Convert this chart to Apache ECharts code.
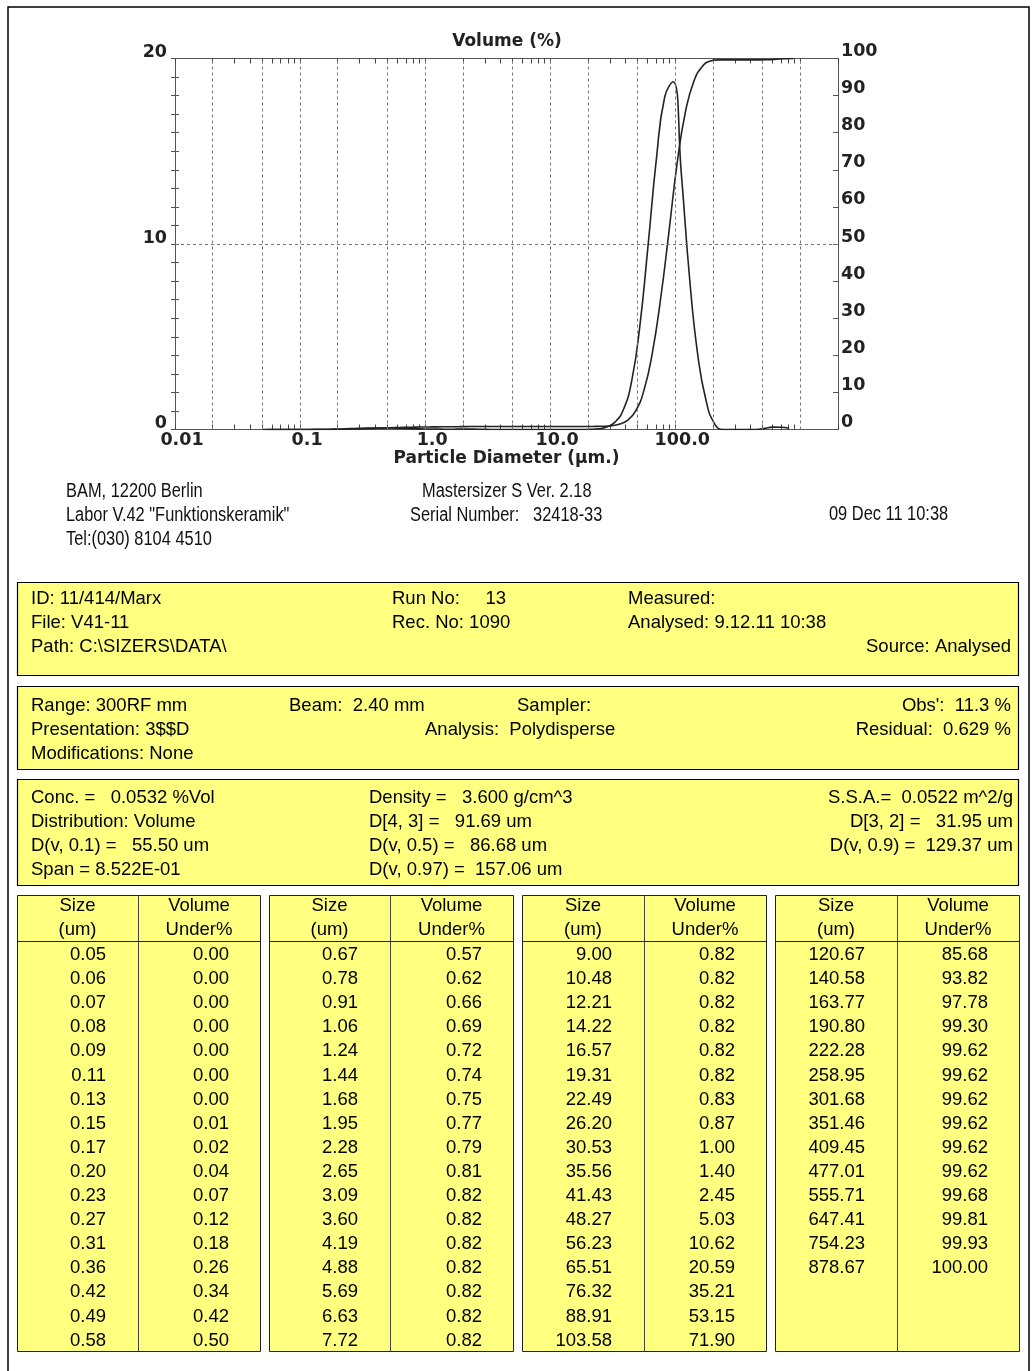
<!DOCTYPE html>
<html>
<head>
<meta charset="utf-8">
<script src="https://cdn.jsdelivr.net/npm/echarts@6/dist/echarts.min.js"></script>
<style>
  html, body { margin: 0; padding: 0; background: #fff; }
  #main { width: 1032px; height: 1371px; }
</style>
</head>
<body>
<div id="main"></div>
<script>
// Result table: upper size of each band (um) and cumulative volume under that size (%)
const sizeUm = [
  0.05, 0.06, 0.07, 0.08, 0.09, 0.11, 0.13, 0.15, 0.17, 0.20, 0.23, 0.27, 0.31, 0.36, 0.42, 0.49, 0.58,
  0.67, 0.78, 0.91, 1.06, 1.24, 1.44, 1.68, 1.95, 2.28, 2.65, 3.09, 3.60, 4.19, 4.88, 5.69, 6.63, 7.72,
  9.00, 10.48, 12.21, 14.22, 16.57, 19.31, 22.49, 26.20, 30.53, 35.56, 41.43, 48.27, 56.23, 65.51, 76.32, 88.91, 103.58,
  120.67, 140.58, 163.77, 190.80, 222.28, 258.95, 301.68, 351.46, 409.45, 477.01, 555.71, 647.41, 754.23, 878.67
];
const volumeUnder = [
  0.00, 0.00, 0.00, 0.00, 0.00, 0.00, 0.00, 0.01, 0.02, 0.04, 0.07, 0.12, 0.18, 0.26, 0.34, 0.42, 0.50,
  0.57, 0.62, 0.66, 0.69, 0.72, 0.74, 0.75, 0.77, 0.79, 0.81, 0.82, 0.82, 0.82, 0.82, 0.82, 0.82, 0.82,
  0.82, 0.82, 0.82, 0.82, 0.82, 0.82, 0.83, 0.87, 1.00, 1.40, 2.45, 5.03, 10.62, 20.59, 35.21, 53.15, 71.90,
  85.68, 93.82, 97.78, 99.30, 99.62, 99.62, 99.62, 99.62, 99.62, 99.62, 99.68, 99.81, 99.93, 100.00
];

// Volume held in each band (%) plotted at the band's geometric centre (um)
const bandCentreUm = [
  0.054, 0.065, 0.075, 0.085, 0.099, 0.119, 0.140, 0.160, 0.185, 0.214, 0.249, 0.289, 0.334, 0.389, 0.454, 0.533, 0.623,
  0.723, 0.842, 0.982, 1.146, 1.336, 1.555, 1.810, 2.108, 2.458, 2.862, 3.335, 3.884, 4.522, 5.269, 6.142, 7.154, 8.335,
  9.712, 11.31, 13.18, 15.35, 17.89, 20.84, 24.27, 28.28, 32.95, 38.38, 44.72, 52.10, 60.69, 70.71, 82.38, 95.96, 111.8,
  130.2, 151.7, 176.8, 205.9, 240.0, 279.5, 325.6, 379.4, 441.9, 514.9, 599.8, 698.8, 814.1
];
const bandVolume = [
  0.00, 0.00, 0.00, 0.00, 0.00, 0.00, 0.01, 0.01, 0.02, 0.03, 0.05, 0.06, 0.08, 0.08, 0.08, 0.08, 0.07,
  0.05, 0.04, 0.03, 0.03, 0.02, 0.01, 0.02, 0.02, 0.02, 0.01, 0.00, 0.00, 0.00, 0.00, 0.00, 0.00, 0.00,
  0.00, 0.00, 0.00, 0.00, 0.00, 0.01, 0.04, 0.13, 0.40, 1.05, 2.58, 5.59, 9.97, 14.62, 17.94, 18.75, 13.78,
  8.14, 3.96, 1.52, 0.32, 0.00, 0.00, 0.00, 0.00, 0.00, 0.06, 0.13, 0.12, 0.07
];

// Axis ticks and labels
const decadeValues = [0.01, 0.1, 1, 10, 100, 1000];
const decadeLabels = ['0.01', '0.1', '1.0', '10.0', '100.0', '1000.0'];
const gridSizes = [0.02, 0.05, 0.1, 0.2, 0.5, 1, 2, 5, 10, 20, 50, 100, 200, 500, 1000];

// Report header and parameter blocks
const labLines = ['BAM, 12200 Berlin', 'Labor V.42 "Funktionskeramik"', 'Tel:(030) 8104 4510'];
const instrumentLines = ['Mastersizer S Ver. 2.18', 'Serial Number:   32418-33'];
const reportDate = '09 Dec 11 10:38';
const sampleLines = ['ID: 11/414/Marx', 'File: V41-11', 'Path: C:\\SIZERS\\DATA\\'];
const runLines = ['Run No:     13', 'Rec. No: 1090'];
const timeLines = ['Measured:', 'Analysed: 9.12.11 10:38'];
const sourceText = 'Source: Analysed';
const rangeLines = ['Range: 300RF mm', 'Presentation: 3$$D', 'Modifications: None'];
const beamText = 'Beam:  2.40 mm';
const samplerText = 'Sampler:';
const analysisText = 'Analysis:  Polydisperse';
const fitLines = ["Obs':  11.3 %", 'Residual:  0.629 %'];
const resultLeft = ['Conc. =   0.0532 %Vol', 'Distribution: Volume', 'D(v, 0.1) =   55.50 um', 'Span = 8.522E-01'];
const resultMid = ['Density =   3.600 g/cm^3', 'D[4, 3] =   91.69 um', 'D(v, 0.5) =   86.68 um', 'D(v, 0.97) =  157.06 um'];
const resultRight = ['S.S.A.=  0.0522 m^2/g', 'D[3, 2] =   31.95 um', 'D(v, 0.9) =  129.37 um'];
const tableHead = [['Size', '(um)'], ['Volume', 'Under%']];

// ---------------------------------------------------------------------------

const chartFont = '"DejaVu Sans", Verdana, sans-serif';
const textFont = '"Liberation Sans", Arial, sans-serif';
const ink = '#222';
const frame = '#555';
const yellow = '#ffff80';

// every 1..9 x 10^n tick along the size axis
const minorTickValues = [];
decadeValues.forEach(function (d) {
  for (let k = 1; k <= 9; k++) {
    if (k * d <= 2000 + 1e-9) minorTickValues.push(k * d);
  }
});

function decadeLabel(v) {
  for (let i = 0; i < decadeValues.length; i++) {
    if (Math.abs(Math.log10(v) - Math.log10(decadeValues[i])) < 1e-6) return decadeLabels[i];
  }
  return '';
}

function txt(str, x, y, extra) {
  const st = Object.assign({
    text: str,
    fill: '#000',
    font: '18.5px ' + textFont,
    align: 'left', textAlign: 'left',
    verticalAlign: 'middle', textVerticalAlign: 'middle'
  }, extra || {});
  if (st.align) st.textAlign = st.align;
  return { type: 'text', x: x, y: y + 2, silent: true, z: 10, style: st };
}
function box(x, y, w, h, fill, stroke, lw) {
  return { type: 'rect', silent: true, z: 5,
    shape: { x: x, y: y, width: w, height: h },
    style: { fill: fill, stroke: stroke, lineWidth: lw } };
}
function hline(x1, x2, y, stroke, lw) {
  return { type: 'line', silent: true, z: 6, shape: { x1: x1, y1: y, x2: x2, y2: y }, style: { stroke: stroke, lineWidth: lw } };
}
function vline(x, y1, y2, stroke, lw) {
  return { type: 'line', silent: true, z: 6, shape: { x1: x, y1: y1, x2: x, y2: y2 }, style: { stroke: stroke, lineWidth: lw } };
}

const g = [];
// page frame
g.push({ type: 'rect', silent: true, z: 1, shape: { x: 8, y: 7, width: 1021, height: 1400 }, style: { fill: 'none', stroke: '#000', lineWidth: 1.5 } });

// lab / instrument header (condensed face)
const narrow = { font: '20px ' + textFont, fill: '#111' };
labLines.forEach(function (s, i) {
  const el = txt(s, 66, 489 + i * 24, narrow); el.scaleX = 0.82; g.push(el);
});
[[instrumentLines[0], 422, 489], [instrumentLines[1], 410, 513], [reportDate, 829, 512]].forEach(function (r) {
  const el = txt(r[0], r[1], r[2], narrow); el.scaleX = 0.82; g.push(el);
});

// block 1: sample
g.push(box(17.5, 582.5, 1001, 93, yellow, '#000', 1.2));
sampleLines.forEach(function (s, i) { g.push(txt(s, 31, 597 + i * 24)); });
runLines.forEach(function (s, i) { g.push(txt(s, 392, 597 + i * 24)); });
timeLines.forEach(function (s, i) { g.push(txt(s, 628, 597 + i * 24)); });
g.push(txt(sourceText, 1011, 645, { align: 'right' }));

// block 2: optics
g.push(box(17.5, 686.5, 1001, 83, yellow, '#000', 1.2));
rangeLines.forEach(function (s, i) { g.push(txt(s, 31, 704 + i * 24)); });
g.push(txt(beamText, 289, 704));
g.push(txt(samplerText, 517, 704));
g.push(txt(analysisText, 425, 728));
fitLines.forEach(function (s, i) { g.push(txt(s, 1011, 704 + i * 24, { align: 'right' })); });

// block 3: result statistics
g.push(box(17.5, 779.5, 1001, 106, yellow, '#000', 1.2));
resultLeft.forEach(function (s, i) { g.push(txt(s, 31, 796 + i * 24)); });
resultMid.forEach(function (s, i) { g.push(txt(s, 369, 796 + i * 24)); });
resultRight.forEach(function (s, i) { g.push(txt(s, 1013, 796 + i * 24, { align: 'right' })); });

// size table, four panels of 17 rows
const panels = [[17, 138, 260], [269, 390, 513], [522, 644, 766], [775, 897, 1019]];
const rowsPerPanel = 17;
panels.forEach(function (p, t) {
  const left = p[0], mid = p[1], right = p[2];
  g.push(box(left + 0.5, 895.5, right - left, 456, yellow, '#222', 1));
  g.push(vline(mid + 0.5, 895.5, 1351.5, '#444', 1));
  g.push(hline(left + 0.5, right + 0.5, 941.5, '#222', 1));
  const cSize = (left + mid) / 2, cVol = (mid + right) / 2;
  g.push(txt(tableHead[0][0], cSize, 904, { align: 'center' }));
  g.push(txt(tableHead[0][1], cSize, 928, { align: 'center' }));
  g.push(txt(tableHead[1][0], cVol, 904, { align: 'center' }));
  g.push(txt(tableHead[1][1], cVol, 928, { align: 'center' }));
  for (let r = 0; r < rowsPerPanel; r++) {
    const k = t * rowsPerPanel + r;
    if (k >= sizeUm.length) break;
    const y = 953 + r * 24.1;
    g.push(txt(sizeUm[k].toFixed(2), mid - 32, y, { align: 'right' }));
    g.push(txt(volumeUnder[k].toFixed(2), right - 31, y, { align: 'right' }));
  }
});

const labelStyle = { fontFamily: chartFont, fontSize: 17.5, fontWeight: 'bold', color: ink };

const option = {
  animation: false,
  backgroundColor: '#fff',
  title: {
    text: 'Volume (%)', left: 507, top: 33, textAlign: 'center', padding: 0,
    textStyle: { fontFamily: chartFont, fontSize: 17, fontWeight: 'bold', color: ink }
  },
  grid: { left: 175, top: 58.5, right: 194, bottom: 941.5, containLabel: false, outerBoundsMode: 'none' },
  xAxis: [
    {
      type: 'log', logBase: 10, min: 0.01, max: 2000, position: 'bottom',
      axisLine: { show: true, onZero: false, lineStyle: { color: frame, width: 1 } },
      axisTick: { show: true, inside: true, length: 5, customValues: minorTickValues, lineStyle: { color: '#444' } },
      axisLabel: Object.assign({
        customValues: decadeValues, formatter: decadeLabel, margin: 2,
        padding: [0, 0, 0, 14], showMaxLabel: false
      }, labelStyle),
      splitLine: { show: false },
      name: 'Particle Diameter (\u00b5m.)', nameLocation: 'middle', nameGap: 18,
      nameTextStyle: Object.assign({}, labelStyle, { fontSize: 17 })
    },
    {
      type: 'log', logBase: 10, min: 0.01, max: 2000, position: 'top',
      axisLine: { show: true, onZero: false, lineStyle: { color: frame, width: 1 } },
      axisTick: { show: true, inside: true, length: 5, customValues: minorTickValues, lineStyle: { color: '#444' } },
      axisLabel: { show: false },
      splitLine: { show: false }
    }
  ],
  yAxis: [
    {
      type: 'value', position: 'left', min: 0, max: 20, interval: 10,
      axisLine: { show: true, onZero: false, lineStyle: { color: frame, width: 1 } },
      axisTick: { show: true, length: 4, lineStyle: { color: frame } },
      minorTick: { show: true, splitNumber: 10, length: 4, lineStyle: { color: frame } },
      axisLabel: Object.assign({ margin: 8, verticalAlign: 'bottom', lineHeight: 12 }, labelStyle),
      splitLine: { show: false }
    },
    {
      type: 'value', position: 'left', min: 0, max: 20, interval: 10,
      axisLine: { show: false, onZero: false },
      axisTick: { show: true, inside: true, length: 4, lineStyle: { color: frame } },
      minorTick: { show: true, splitNumber: 10, length: 4, lineStyle: { color: frame } },
      axisLabel: { show: false },
      splitLine: { show: false }
    },
    {
      type: 'value', position: 'right', min: 0, max: 100, interval: 10,
      axisLine: { show: true, onZero: false, lineStyle: { color: frame, width: 1 } },
      axisTick: { show: true, inside: true, length: 5, lineStyle: { color: frame } },
      axisLabel: Object.assign({ margin: 3, verticalAlign: 'bottom', lineHeight: 14 }, labelStyle),
      splitLine: { show: false }
    }
  ],
  series: [
    {
      name: 'Volume in band', type: 'line', xAxisIndex: 0, yAxisIndex: 0,
      data: bandCentreUm.map(function (s, i) { return [s, bandVolume[i]]; }),
      smooth: 0.5, symbol: 'none', showSymbol: false,
      lineStyle: { color: ink, width: 1.6 },
      z: 4,
      markLine: {
        silent: true, symbol: ['none', 'none'], animation: false,
        label: { show: false }, emphasis: { disabled: true },
        lineStyle: { color: '#777', type: [3, 3], width: 1 },
        data: gridSizes.map(function (v) { return { xAxis: v }; }).concat([{ yAxis: 10 }])
      }
    },
    {
      name: 'Volume under', type: 'line', xAxisIndex: 0, yAxisIndex: 2,
      data: sizeUm.map(function (s, i) { return [s, volumeUnder[i]]; }),
      smooth: 0.5, symbol: 'none', showSymbol: false,
      lineStyle: { color: ink, width: 1.6 },
      z: 4
    }
  ],
  graphic: { elements: g }
};

const chart = echarts.init(document.getElementById('main'), null, { renderer: 'canvas' });
chart.setOption(option);
</script>
</body>
</html>
